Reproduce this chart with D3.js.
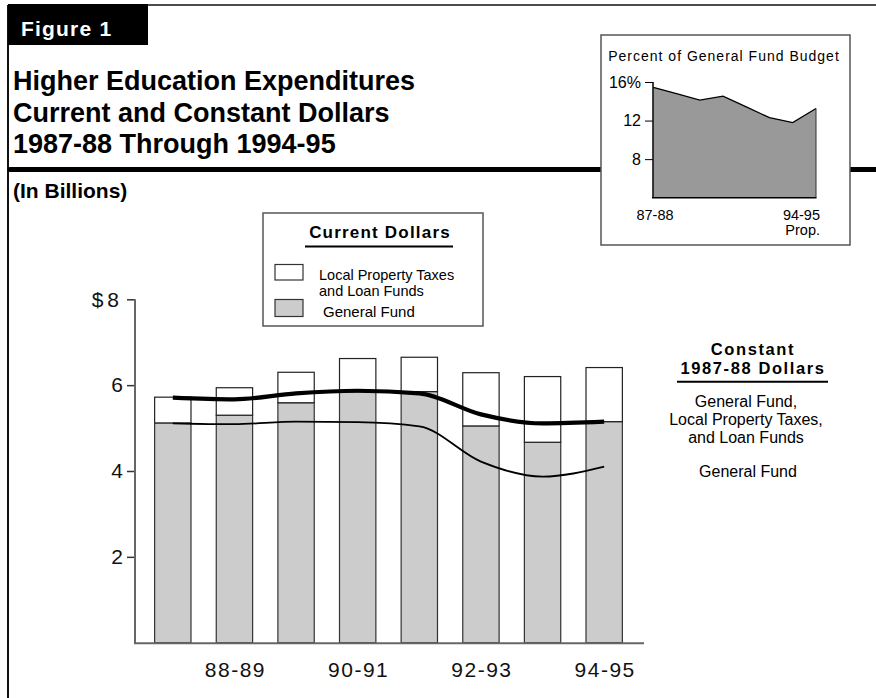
<!DOCTYPE html>
<html><head><meta charset="utf-8">
<script src="https://cdn.jsdelivr.net/npm/d3@7"></script>
<style>
html,body{margin:0;padding:0;background:#fff;}
svg{display:block;font-family:"Liberation Sans",Arial,Helvetica,sans-serif;}
</style></head>
<body>
<svg id="chart" width="876" height="698"></svg>
<script>
// ---- data ----
const years = ["87-88","88-89","89-90","90-91","91-92","92-93","93-94","94-95"];
const generalFund = [5.12,5.30,5.59,5.85,5.85,5.05,4.67,5.15];
const localPropertyLoan = [0.60,0.64,0.71,0.77,0.80,1.24,1.53,1.26];
const constantTotal = [5.71,5.67,5.81,5.87,5.81,5.32,5.11,5.15];
const constantGeneralFund = [5.11,5.09,5.15,5.14,5.04,4.22,3.87,4.10];
const yTicks = [2,4,6,8];
const xTickLabels = ["88-89","90-91","92-93","94-95"];
const insetPercent = [15.45,14.8,14.12,14.54,13.42,12.3,11.79,13.25];
const insetTicks = [8,12,16];

const svg = d3.select("#chart");

// ---- frame ----
svg.append("line").attr("x1",8).attr("x2",876).attr("y1",5).attr("y2",5).attr("stroke","#111").attr("stroke-width",1.5);
svg.append("line").attr("x1",8).attr("x2",8).attr("y1",5).attr("y2",698).attr("stroke","#111").attr("stroke-width",2);
svg.append("rect").attr("x",8).attr("y",4).attr("width",140).attr("height",41).attr("fill","#000");
svg.append("text").attr("x",21).attr("y",36).attr("fill","#fff").attr("font-weight","bold")
  .attr("font-size",21).attr("letter-spacing",1.2).text("Figure 1");

const titleLines = ["Higher Education Expenditures","Current and Constant Dollars","1987-88 Through 1994-95"];
svg.append("g").selectAll("text").data(titleLines).join("text")
  .attr("x",13).attr("y",(d,i)=>90+i*31.5).attr("font-size",27).attr("font-weight","bold").attr("fill","#000").text(d=>d);

svg.append("line").attr("x1",10).attr("x2",876).attr("y1",169.5).attr("y2",169.5)
  .attr("stroke","#000").attr("stroke-width",5).attr("stroke-linecap","round");
svg.append("text").attr("x",13).attr("y",198).attr("font-size",21).attr("font-weight","bold").text("(In Billions)");

// ---- main chart ----
const x = d3.scaleBand().domain(years).range([142,635]).paddingInner(0.41).paddingOuter(0.205);
const y = d3.scaleLinear().domain([0,8]).range([642.7,299.3]);

// axes
const yAxis = svg.append("g").attr("transform","translate(135,0)")
  .call(d3.axisLeft(y).tickValues(yTicks).tickSize(8).tickFormat(d=>d===8?"$8":String(d)));
yAxis.select(".domain").remove();
yAxis.selectAll(".tick line").attr("stroke","#333").attr("stroke-width",1.5);
yAxis.selectAll(".tick text").attr("font-size",21).attr("fill","#111").attr("x",-12)
  .attr("font-family",'"Liberation Sans",Arial,sans-serif')
  .attr("letter-spacing",d=>d===8?4:0);
svg.append("line").attr("x1",135).attr("x2",135).attr("y1",y(8)).attr("y2",y(0)+1).attr("stroke","#666").attr("stroke-width",2);

// bars
const gBars = svg.append("g");
gBars.selectAll("rect.gf").data(years).join("rect").attr("class","gf")
  .attr("x",d=>x(d)).attr("width",x.bandwidth())
  .attr("y",(d,i)=>y(generalFund[i])).attr("height",(d,i)=>y(0)-y(generalFund[i]))
  .attr("fill","#cccccc").attr("stroke","#333").attr("stroke-width",1.2);
gBars.selectAll("rect.lp").data(years).join("rect").attr("class","lp")
  .attr("x",d=>x(d)).attr("width",x.bandwidth())
  .attr("y",(d,i)=>y(generalFund[i]+localPropertyLoan[i])).attr("height",(d,i)=>y(generalFund[i])-y(generalFund[i]+localPropertyLoan[i]))
  .attr("fill","#fff").attr("stroke","#222").attr("stroke-width",1.2);

svg.append("line").attr("x1",134).attr("x2",644).attr("y1",y(0)+0.5).attr("y2",y(0)+0.5).attr("stroke","#666").attr("stroke-width",2);

// lines
const cx = d => x(d)+x.bandwidth()/2;
const lineGen = vals => d3.line().x((d,i)=>cx(years[i])).y(d=>y(d)).curve(d3.curveMonotoneX)(vals);
svg.append("path").attr("d",lineGen(constantGeneralFund)).attr("fill","none").attr("stroke","#000").attr("stroke-width",1.8);
svg.append("path").attr("d",lineGen(constantTotal)).attr("fill","none").attr("stroke","#000").attr("stroke-width",4.2);

// x labels
svg.append("g").selectAll("text").data(xTickLabels).join("text")
  .attr("x",d=>cx(d)+1).attr("y",677).attr("text-anchor","middle")
  .attr("font-size",21).attr("letter-spacing",1.5).attr("fill","#111").text(d=>d);

// legend
const lg = svg.append("g");
lg.append("rect").attr("x",263).attr("y",213).attr("width",220).attr("height",113)
  .attr("fill","#fff").attr("stroke","#555").attr("stroke-width",1.5);
lg.append("text").attr("x",380).attr("y",238).attr("text-anchor","middle").attr("font-size",17)
  .attr("font-weight","bold").attr("letter-spacing",1.2).text("Current Dollars");
lg.append("line").attr("x1",305).attr("x2",453).attr("y1",246.5).attr("y2",246.5).attr("stroke","#000").attr("stroke-width",2);
lg.append("rect").attr("x",275).attr("y",264.5).attr("width",28).attr("height",15.5).attr("fill","#fff").attr("stroke","#333").attr("stroke-width",1.2);
lg.append("rect").attr("x",275).attr("y",299.5).attr("width",28).attr("height",17).attr("fill","#ccc").attr("stroke","#333").attr("stroke-width",1.2);
lg.append("text").attr("x",319).attr("y",279.5).attr("font-size",14.5).text("Local Property Taxes");
lg.append("text").attr("x",319).attr("y",295.5).attr("font-size",14.5).text("and Loan Funds");
lg.append("text").attr("x",323).attr("y",316.5).attr("font-size",15).text("General Fund");

// right annotation
const ra = svg.append("g").attr("text-anchor","middle");
ra.append("text").attr("x",753).attr("y",355).attr("font-size",16.5).attr("font-weight","bold").attr("letter-spacing",1.6).text("Constant");
ra.append("text").attr("x",753).attr("y",374).attr("font-size",16.5).attr("font-weight","bold").attr("letter-spacing",1.6).text("1987-88 Dollars");
svg.append("line").attr("x1",677).attr("x2",828).attr("y1",381.7).attr("y2",381.7).attr("stroke","#000").attr("stroke-width",2);
const annLines = ["General Fund,","Local Property Taxes,","and Loan Funds"];
ra.selectAll("text.a").data(annLines).join("text").attr("class","a")
  .attr("x",746).attr("y",(d,i)=>406.5+i*18).attr("font-size",16).text(d=>d);
ra.append("text").attr("x",748).attr("y",476.5).attr("font-size",16).text("General Fund");

// ---- inset ----
svg.append("rect").attr("x",601).attr("y",35).attr("width",249).attr("height",210)
  .attr("fill","#fff").attr("stroke","#555").attr("stroke-width",1.5);
svg.append("text").attr("x",724).attr("y",61).attr("text-anchor","middle").attr("font-size",14)
  .attr("letter-spacing",1).text("Percent of General Fund Budget");
const ix = d3.scalePoint().domain(years).range([653.3,816]);
const iy = d3.scaleLinear().domain([4,16]).range([197.7,82]);
svg.append("path").attr("d",d3.area().x((d,i)=>ix(years[i])).y0(iy(4)).y1(d=>iy(d))(insetPercent))
  .attr("fill","#999").attr("stroke","none");
svg.append("path").attr("d",d3.line().x((d,i)=>ix(years[i])).y(d=>iy(d))(insetPercent))
  .attr("fill","none").attr("stroke","#000").attr("stroke-width",1.3);
svg.append("line").attr("x1",816).attr("x2",816).attr("y1",iy(insetPercent[7])).attr("y2",iy(4)).attr("stroke","#333").attr("stroke-width",1);
const iAxis = svg.append("g").attr("transform","translate(653,0)")
  .call(d3.axisLeft(iy).tickValues(insetTicks).tickSize(8).tickFormat(d=>d===16?"16%":String(d)));
iAxis.select(".domain").remove();
iAxis.selectAll(".tick line").attr("stroke","#000").attr("stroke-width",1);
iAxis.selectAll(".tick text").attr("font-size",16).attr("fill","#000").attr("x",-12)
  .attr("font-family",'"Liberation Sans",Arial,sans-serif');
svg.append("line").attr("x1",653).attr("x2",653).attr("y1",82).attr("y2",198).attr("stroke","#000").attr("stroke-width",1.5);
svg.append("line").attr("x1",652).attr("x2",816.5).attr("y1",197.7).attr("y2",197.7).attr("stroke","#000").attr("stroke-width",1.5);
svg.append("text").attr("x",655).attr("y",219.5).attr("text-anchor","middle").attr("font-size",14.5).text("87-88");
svg.append("text").attr("x",820).attr("y",219.5).attr("text-anchor","end").attr("font-size",14.5).text("94-95");
svg.append("text").attr("x",820).attr("y",235).attr("text-anchor","end").attr("font-size",14.5).text("Prop.");
</script>
</body></html>
